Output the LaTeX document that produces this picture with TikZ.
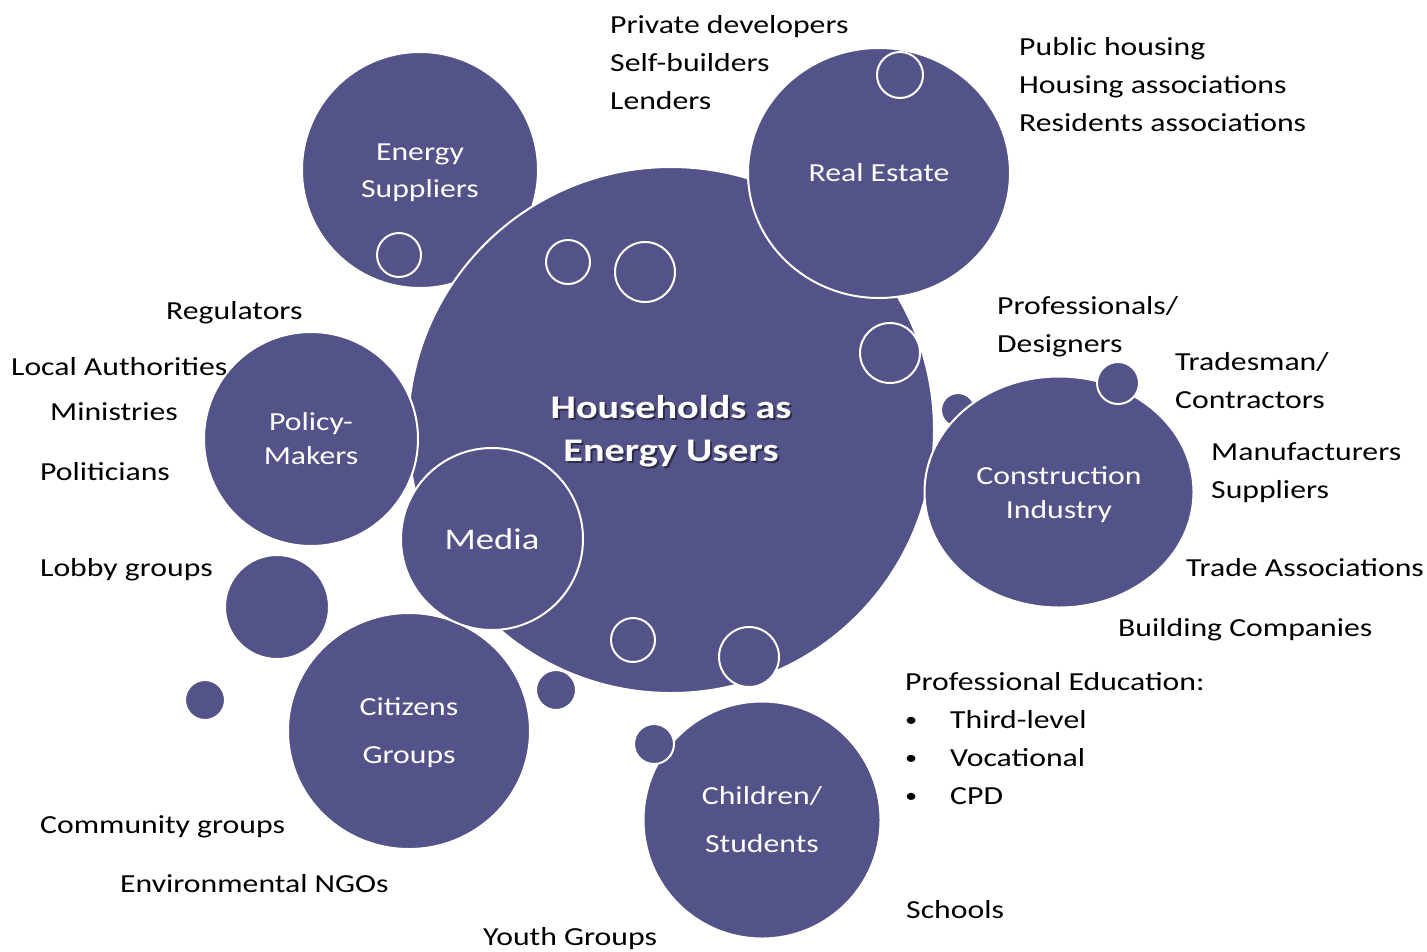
\documentclass[tikz,border=0pt]{standalone}
\usepackage{fontspec}
\setmainfont{Carlito}[FakeStretch=1.22]
\usepackage{tikz}
\usetikzlibrary{shapes.geometric}
\definecolor{bubblecol}{RGB}{83,83,138}

\tikzset{
  bubble/.style={circle, fill=bubblecol, draw=white, line width=2pt, inner sep=0pt, text=white, align=center},
  bubtext/.style={inner sep=0pt, text=white, align=center},
  ring/.style={circle, fill=bubblecol, draw=white, line width=2pt, inner sep=0pt},
  lbl/.style={anchor=base west, inner sep=0pt, text=black, font=\fontsize{26}{38}\selectfont}
}

\begin{document}
\begin{tikzpicture}[x=1pt, y=-1pt]
  \useasboundingbox (0,0) rectangle (1427,951);
  % bubbles at the back
  \node[ring, minimum size=34pt] (hid) at (958,410) {};
  \node[bubble, minimum size=236pt] (energy) at (420,170) {};
  \node[bubtext, font=\fontsize{26}{37}\selectfont] (energytext) at (420,173) {Energy\\Suppliers};
  \node[bubble, ellipse, minimum width=242pt, minimum height=236pt] (citizens) at (409,731) {};
  \node[bubtext, font=\fontsize{26}{48}\selectfont] (citizenstext) at (409,733) {Citizens\\Groups};
  \node[bubble, minimum size=104pt] (lobby) at (277,607) {};
  \node[ring, minimum size=40pt] (dotA) at (205,700) {};
  \node[ring, minimum size=40pt] (dotB) at (556,690) {};
  % households
  \node[bubble, minimum size=526pt] (house) at (671,430) {};
  \node[bubtext, text=black, opacity=0.45, font=\fontsize{33}{43}\selectfont\bfseries] (houseshadow) at (673,433) {Households as\\Energy Users};
  \node[bubtext, font=\fontsize{33}{43}\selectfont\bfseries] (housetext) at (671,431) {Households as\\Energy Users};
  % bubbles in front
  \node[bubble, ellipse, minimum width=262pt, minimum height=250pt, font=\fontsize{26}{37}\selectfont] (estate) at (879,173) {Real Estate};
  \node[bubble, minimum size=214pt, font=\fontsize{26}{34}\selectfont] (policy) at (311,439) {Policy-\\Makers};
  \node[bubble, minimum size=182pt, font=\fontsize{30}{36}\selectfont] (media) at (492,539) {Media};
  \node[bubble, ellipse, minimum width=269pt, minimum height=231pt] (constr) at (1059,492) {};
  \node[bubtext, font=\fontsize{26}{34}\selectfont] (constrtext) at (1059,495) {Construction\\Industry};
  \node[ring, minimum size=42pt] (dotC) at (1118,383) {};
  \node[bubble, minimum size=237pt, font=\fontsize{26}{48}\selectfont] (children) at (762,820) {Children/\\Students};
  \node[ring, minimum size=40pt] (dotD) at (654,744) {};
  % small rings
  \node[ring, minimum size=46pt] (ringA) at (900,75) {};
  \node[ring, minimum size=44pt] (ringB) at (399,255) {};
  \node[ring, minimum size=44pt] (ringC) at (568,262) {};
  \node[ring, minimum size=60pt] (ringD) at (645,272) {};
  \node[ring, minimum size=60pt] (ringE) at (890,353) {};
  \node[ring, minimum size=44pt] (ringF) at (633,640) {};
  \node[ring, minimum size=60pt] (ringG) at (749,657) {};
  % labels top
  \node[lbl] (privdev) at (610,33) {Private developers};
  \node[lbl] (selfb) at (610,71) {Self-builders};
  \node[lbl] (lend) at (610,109) {Lenders};
  \node[lbl] (pubh) at (1019,55) {Public housing};
  \node[lbl] (housa) at (1019,93) {Housing associations};
  \node[lbl] (resa) at (1019,131) {Residents associations};
  % labels left
  \node[lbl] (regul) at (166,319) {Regulators};
  \node[lbl] (locauth) at (11,375) {Local Authorities};
  \node[lbl] (minis) at (50,420) {Ministries};
  \node[lbl] (polit) at (40,480) {Politicians};
  \node[lbl] (lobbyg) at (40,576) {Lobby groups};
  \node[lbl] (commg) at (40,833) {Community groups};
  \node[lbl] (envngo) at (120,892) {Environmental NGOs};
  \node[lbl] (youthg) at (483,945) {Youth Groups};
  % labels right
  \node[lbl] (profdes) at (997,314) {Professionals/};
  \node[lbl] (desig) at (997,352) {Designers};
  \node[lbl] (trades) at (1175,370) {Tradesman/};
  \node[lbl] (contr) at (1175,408) {Contractors};
  \node[lbl] (manuf) at (1211,460) {Manufacturers};
  \node[lbl] (suppl) at (1211,498) {Suppliers};
  \node[lbl] (tradea) at (1186,576) {Trade Associations};
  \node[lbl] (buildc) at (1118,636) {Building Companies};
  \node[lbl] (profedu) at (905,690) {Professional Education:};
  \node[lbl, font=\fontsize{20}{38}\selectfont] (bulA) at (905,726) {\textbullet};
  \node[lbl] (thirdl) at (950,728) {Third-level};
  \node[lbl, font=\fontsize{20}{38}\selectfont] (bulB) at (905,764) {\textbullet};
  \node[lbl] (vocat) at (950,766) {Vocational};
  \node[lbl, font=\fontsize{20}{38}\selectfont] (bulC) at (905,802) {\textbullet};
  \node[lbl] (cpd) at (950,804) {CPD};
  \node[lbl] (school) at (906,918) {Schools};
\end{tikzpicture}
\end{document}
